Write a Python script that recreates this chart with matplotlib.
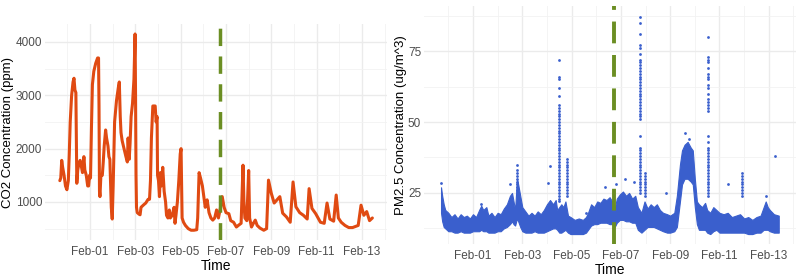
import numpy as np
import matplotlib
matplotlib.use("Agg")
import matplotlib.pyplot as plt
import matplotlib.dates as mdates
from matplotlib.ticker import MultipleLocator

plt.rcParams['font.family'] = ['Liberation Sans', 'DejaVu Sans']

# ---- data (hours since Jan 30 00:00) ----
co2_hours = [16, 17, 18, 19, 20.5, 22, 23.5, 24.5, 25, 26, 27, 28.5, 30, 31, 32, 33, 33.5, 34,
             35, 36, 37.5, 39, 40, 41.5, 42.5, 44, 45.5, 46.5, 47.5, 48.5, 49.5, 50.5, 52, 54,
             56, 57, 57.5, 58, 58.5, 59.5, 61, 62, 63, 64.5, 65.5, 67, 68, 69, 70, 70.5, 71.5,
             72.5, 74, 76, 78, 79, 80, 80.8, 82, 84, 86, 87.5, 88.3, 89.5, 90.4, 91.5, 93, 94.5,
             95.7, 96.2, 96.7, 97.2, 98, 100, 101, 102, 105, 107, 109.5, 111, 112, 113, 114.5,
             117, 118, 119, 119.5, 120.5, 121.5, 122.5, 123.5, 125, 126.5, 128, 129, 130.5, 132,
             133, 135, 137, 138, 139, 140.5, 142, 143.5, 144.4, 145, 145.5, 147, 149, 152, 155,
             158, 161, 162, 163.5, 165, 167, 168.5, 170, 172, 174, 176, 178, 180, 182, 184, 186,
             188, 190, 192, 195, 197, 200, 203, 205, 208, 210, 211, 212, 214, 216, 217, 219, 221,
             223, 225, 228, 232, 235, 237, 240, 243, 246, 249, 252, 256, 260, 263, 266, 270, 274,
             278, 280, 283, 287, 292, 296, 299, 302, 306, 308.7, 311, 314, 318, 322, 326, 332,
             335, 338, 341, 344, 347]
co2_ppm = [1400, 1450, 1780, 1650, 1500, 1300, 1230, 1350, 1400, 1900, 2500, 3000, 3250, 3320,
           3100, 3050, 2200, 1350, 1600, 1700, 1780, 1650, 1550, 1850, 1600, 1500, 1300, 1300,
           1500, 1450, 2400, 3200, 3450, 3600, 3700, 3700, 2800, 1200, 1100, 1500, 1500, 1750,
           2050, 2350, 2200, 2050, 1850, 1800, 1200, 900, 680, 1300, 2500, 2900, 3150, 3250,
           2600, 2300, 2150, 2000, 1850, 1750, 2200, 1800, 2100, 2600, 2850, 3300, 4150, 3000,
           1500, 900, 800, 770, 760, 900, 950, 980, 1050, 1050, 1400, 2200, 2800, 2800, 2500,
           2600, 1500, 1400, 1100, 1550, 1300, 1650, 1200, 1000, 750, 700, 850, 700, 750, 900,
           600, 750, 1000, 1400, 1900, 2000, 1300, 700, 620, 560, 500, 470, 470, 480, 700,
           1550, 1450, 1300, 1100, 900, 1040, 800, 700, 660, 700, 850, 700, 880, 1100, 900,
           800, 780, 650, 620, 530, 560, 600, 1690, 1000, 700, 650, 1590, 700, 530, 600, 660,
           560, 510, 470, 500, 1410, 1160, 980, 1040, 1100, 790, 720, 620, 1375, 910, 800, 750,
           680, 1250, 880, 780, 620, 600, 980, 680, 640, 1130, 700, 620, 560, 520, 520, 560,
           940, 750, 820, 650, 700]

# PM2.5: dense band (low / high envelope)
pm_hours = [16.9, 18, 19.5, 21, 24, 27, 30, 33, 36, 39, 42, 45, 48, 51, 54, 56, 58, 61, 63, 66,
            69, 72, 75, 78, 81, 84, 86, 87.5, 89, 90.8, 92, 94, 96, 99, 102, 105, 108, 111, 114,
            117, 120, 123, 126, 128.5, 130, 132, 134, 136, 138, 140.5, 143, 147, 151, 155, 158,
            160, 163, 166, 169, 172, 175, 178, 181, 183.5, 186, 188, 191, 194, 197, 200, 203,
            206, 208.5, 212, 215, 218, 221, 224, 227, 230, 233, 237, 240, 244, 246.5, 249.5,
            251.5, 254, 257, 260, 262, 264, 266, 268, 271, 274, 276, 279, 282, 285, 288, 292,
            296, 300, 304, 308, 312, 316, 320, 324, 328, 331, 333, 335, 337, 341, 345.7]
pm_low = [18, 15, 13, 12.5, 11.5, 11.5, 11, 11, 11.5, 11, 11, 11, 11.5, 11.5, 11.5, 12, 11.5,
          11.5, 11, 11, 11, 11.5, 11.5, 12.5, 13, 14, 15, 14, 13.5, 16, 15, 13, 11.5, 11, 11,
          11, 11.5, 11, 11, 11, 11.5, 12, 12.5, 12.5, 12, 11, 11, 11.5, 12, 11, 10.5, 10.5,
          10.5, 10.5, 11, 12, 13.5, 14, 14, 14.5, 14.5, 14.5, 14, 14, 13, 14.5, 15.5, 15.5, 15,
          15, 14.5, 14.5, 12, 11, 12, 13, 13, 13, 12.5, 12, 11.5, 11, 11, 11.5, 13, 22, 28, 30,
          30, 29, 28, 20, 14, 12, 12, 12, 11, 10.5, 11.5, 12, 11, 11, 11, 11, 11, 11, 11, 10.5,
          10.5, 11, 11, 12, 12, 12, 11.5, 11, 11]
pm_high = [27, 24, 21, 19, 18, 16.5, 17.5, 16, 17.5, 16.5, 17, 16, 17.5, 16.5, 19, 20.5, 19, 20,
           17, 18, 16.5, 18, 17.5, 19.5, 21, 24, 25, 22, 19, 30, 28, 24, 20, 18.5, 17, 18, 17,
           18.5, 17.5, 19, 21, 22.5, 21, 22.5, 19, 20, 21, 20, 22, 17, 16.5, 15.5, 16, 15.5,
           16.5, 18, 21, 20, 22, 21.5, 23, 22.5, 23.5, 22, 19.5, 23, 24.5, 25.5, 24, 25, 23,
           24, 20, 18, 22, 19.5, 21, 20, 21, 19, 18, 17.5, 17, 18, 24, 35, 40, 42, 43, 41, 40,
           30, 22, 21, 20, 21.5, 19, 18, 20, 19, 18, 17.5, 18, 16.5, 17, 17.5, 16, 16.5, 15.5,
           16.5, 17, 20, 22, 20, 19, 17.5, 17]

# PM2.5: short spikes (time, values of the dots in the column)
spike_hours = [90.8, 131.7, 139.6, 210.3, 215.2, 276.8, 309.5]
spike_values = [
    [35, 33, 32, 31, 30, 29, 28, 27, 26],
    [72, 66, 65, 62, 59, 56, 55, 54, 53, 52, 51, 50, 49, 48, 47, 46, 45, 44, 43, 42, 41, 40, 39,
     38, 37, 36, 35, 34, 33, 32, 31, 30, 29, 28, 27, 26, 25, 24, 23, 22],
    [37, 36, 35, 34, 33, 32, 31, 30, 29, 28, 27, 26, 25, 24],
    [87, 85, 81, 77, 76, 74, 72, 71, 70, 69, 68, 67, 66, 65, 64, 63, 62, 61, 60, 59, 58, 57, 56,
     55, 54, 53, 52, 51, 45, 41, 40, 39, 38, 37, 36, 35, 34, 33, 32, 31, 30, 29, 28, 27, 26, 25],
    [32, 31, 30, 29, 28, 27, 26, 25, 24],
    [80, 73, 72, 71, 69, 67, 66, 65, 63, 62, 60, 58, 57, 56, 55, 54, 45, 43, 41, 40, 39, 38, 37,
     36, 35, 34, 33, 32, 31, 30, 29, 28, 27, 26, 25, 24],
    [32, 31, 30, 29, 28, 27, 26, 25, 24],
]
outlier_hours = [17, 56, 84, 121, 122.5, 158, 177, 187, 196, 205, 236, 254, 258, 296, 333, 342]
outlier_values = [28.5, 21, 28, 28.5, 34.5, 18, 27, 28, 30, 29, 25, 46, 44, 28, 24, 38]

event_time = np.datetime64('2024-02-06T17:30')

# ---- helpers ----
base = np.datetime64('2024-01-30T00:00')


def to_time(hours):
    return base + (np.asarray(hours, dtype=float) * 60).astype('timedelta64[m]')


orange = '#E04A12'
blue = '#3A5FCD'
green = '#6B8E23'
tick_col = '#4D4D4D'
W, H = 800, 279

fig = plt.figure(figsize=(W / 100, H / 100), dpi=100)


def make_axes(x0, ytop, x1, ybot):
    ax = fig.add_axes([x0 / W, 1 - ybot / H, (x1 - x0) / W, (ybot - ytop) / H])
    for s in ax.spines.values():
        s.set_visible(False)
    ax.xaxis.set_major_locator(mdates.DayLocator(bymonthday=[1, 3, 5, 7, 9, 11, 13]))
    ax.xaxis.set_minor_locator(mdates.DayLocator())
    ax.xaxis.set_major_formatter(mdates.DateFormatter('%b-%d'))
    ax.grid(which='major', color='#EBEBEB', lw=1.0)
    ax.grid(which='minor', color='#F2F2F2', lw=0.6)
    ax.set_axisbelow(True)
    ax.tick_params(which='both', length=0, labelsize=8.5, labelcolor=tick_col, pad=4)
    ax.set_xlim(to_time(0.3), to_time(362.5))
    ax.set_xlabel('Time', fontsize=10, labelpad=1)
    return ax


# left: CO2
ax1 = make_axes(45, 24, 387, 240)
ax1.plot(to_time(co2_hours), co2_ppm, color=orange, lw=2.2, solid_capstyle='round',
         solid_joinstyle='round')
ax1.axvline(event_time, color=green, lw=2.5, dashes=(5.0, 3.0))
ax1.set_ylim(287, 4337)
ax1.yaxis.set_major_locator(MultipleLocator(1000))
ax1.yaxis.set_minor_locator(MultipleLocator(500))
ax1.set_ylabel('CO2 Concentration (ppm)', fontsize=9.5, labelpad=1)
ax1.tick_params(axis='y', pad=2)

# right: PM2.5
ax2 = make_axes(424, 6, 796, 244)
pm_t = to_time(pm_hours)
ax2.fill_between(pm_t, pm_low, pm_high, color=blue, lw=0.8, edgecolor=blue)
for h, vals in zip(spike_hours, spike_values):
    ax2.scatter(to_time([h] * len(vals)), vals, s=4, color=blue, lw=0)
ax2.scatter(to_time(outlier_hours), outlier_values, s=4, color=blue, lw=0)
ax2.axvline(event_time, color=green, lw=2.8, dashes=(5.6, 3.0))
ax2.set_ylim(7.0, 90.9)
ax2.yaxis.set_major_locator(MultipleLocator(25))
ax2.yaxis.set_minor_locator(MultipleLocator(12.5))
ax2.set_ylabel('PM2.5 Concentration (ug/m^3)', fontsize=9.5, labelpad=1)
ax2.tick_params(axis='y', pad=2)

fig.savefig('out.png', dpi=100)
